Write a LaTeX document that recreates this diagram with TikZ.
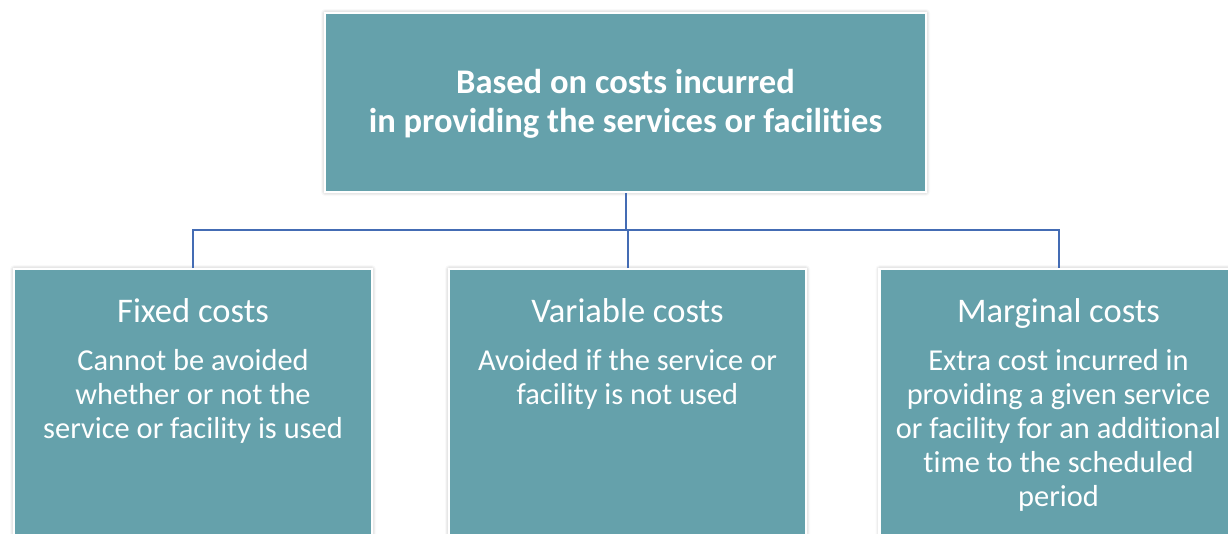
\documentclass[tikz,border=0pt]{standalone}
\usepackage{fontspec}
\setmainfont{Carlito}[Ligatures=NoCommon]
\usetikzlibrary{shadows.blur}
\definecolor{tealfill}{RGB}{101,161,171}
\definecolor{linkblue}{RGB}{68,108,180}
\begin{document}
\begin{tikzpicture}[x=0.75pt,y=-0.75pt,
  card/.style={draw=white,line width=1.6pt,fill=tealfill,inner sep=0pt,
    blur shadow={shadow xshift=0pt,shadow yshift=0pt,shadow blur radius=3pt,shadow opacity=35}},
  titletext/.style={text=white,font=\fontsize{25.9}{29.3}\selectfont\bfseries,align=center},
  headtext/.style={text=white,font=\fontsize{25.9}{29}\selectfont,text height=0.7em,text depth=0pt},
  bodytext/.style={text=white,font=\fontsize{22.8}{25.5}\selectfont,align=center,anchor=north,inner sep=0pt},
  link/.style={draw=linkblue,line width=1.5pt}]
\useasboundingbox (0,0) rectangle (1228,533);
\clip (0,0) rectangle (1228,533);

% top box
\node[card,minimum width=601*0.75pt,minimum height=179*0.75pt] (top) at (625.5,102.5) {};
\node[titletext] (toptext) at (625.5,104) {Based on costs incurred\\ in providing the services or facilities};

% three category boxes (they run past the lower edge)
\node[card,minimum width=358*0.75pt,minimum height=320*0.75pt,anchor=north] (fixed) at (193,268) {};
\node[card,minimum width=357*0.75pt,minimum height=320*0.75pt,anchor=north] (variable) at (627.5,268) {};
\node[card,minimum width=358*0.75pt,minimum height=320*0.75pt,anchor=north] (marginal) at (1058.5,268) {};

\node[headtext] (fixedhead) at (193,318) {Fixed costs};
\node[headtext] (varhead) at (627.5,318) {Variable costs};
\node[headtext] (marghead) at (1058.5,318) {Marginal costs};

\node[bodytext] (fixedbody) at (193,349) {Cannot be avoided\\ whether or not the\\ service or facility is used};
\node[bodytext] (varbody) at (627.5,349) {Avoided if the service or\\ facility is not used};
\node[bodytext] (margbody) at (1058.5,349) {Extra cost incurred in\\ providing a given service\\ or facility for an additional\\ time to the scheduled\\ period};

% connectors
\coordinate (bus) at (626,230);
\draw[link] (top.south) -- (top.south |- bus);
\draw[link] (fixed.north) -- (fixed.north |- bus) -- (marginal.north |- bus) -- (marginal.north);
\draw[link] (variable.north) -- (variable.north |- bus);
\end{tikzpicture}
\end{document}
